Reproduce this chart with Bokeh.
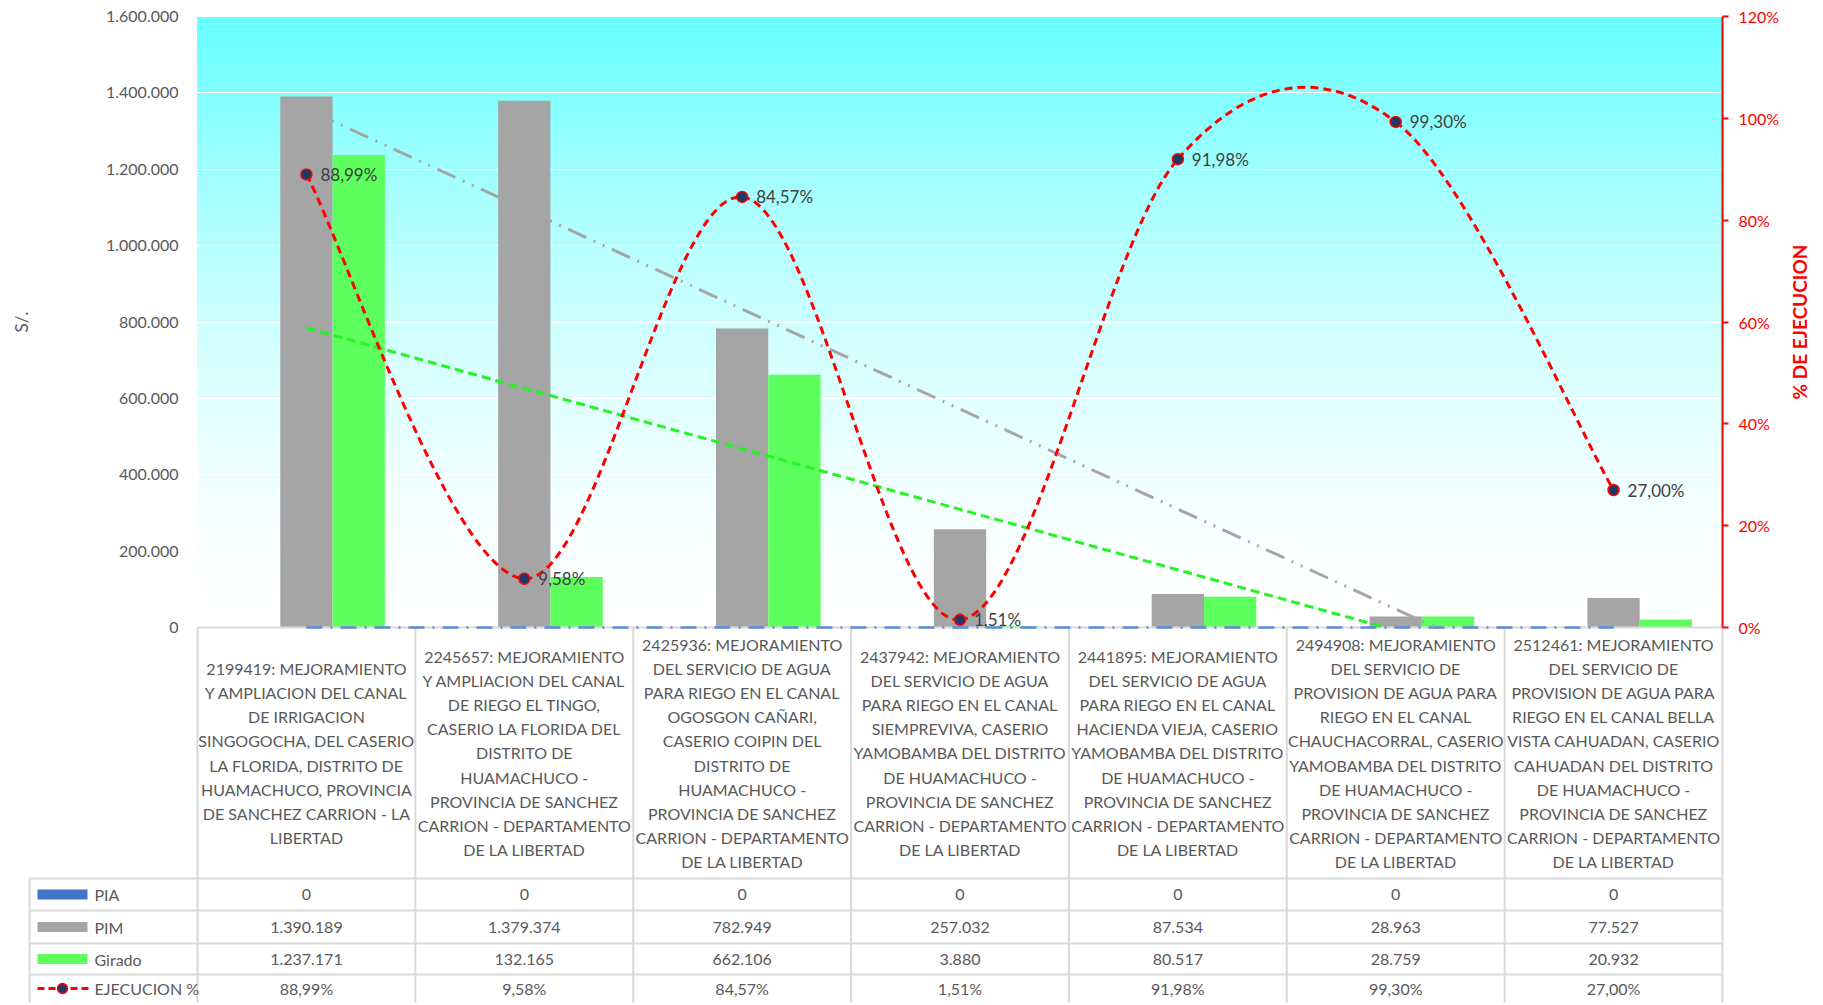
import numpy as np
from bokeh.plotting import figure
from bokeh.models import Range1d, LinearAxis, FixedTicker, Grid
from bokeh.core.properties import value
from bokeh.embed import file_html
from bokeh.resources import INLINE

# ---------------- data ----------------
categories = [
    "2199419: MEJORAMIENTO\nY AMPLIACION DEL CANAL\nDE IRRIGACION\nSINGOGOCHA, DEL CASERIO\nLA FLORIDA, DISTRITO DE\nHUAMACHUCO, PROVINCIA\nDE SANCHEZ CARRION - LA\nLIBERTAD",
    "2245657: MEJORAMIENTO\nY AMPLIACION DEL CANAL\nDE RIEGO EL TINGO,\nCASERIO LA FLORIDA DEL\nDISTRITO DE\nHUAMACHUCO -\nPROVINCIA DE SANCHEZ\nCARRION - DEPARTAMENTO\nDE LA LIBERTAD",
    "2425936: MEJORAMIENTO\nDEL SERVICIO DE AGUA\nPARA RIEGO EN EL CANAL\nOGOSGON CAÑARI,\nCASERIO COIPIN DEL\nDISTRITO DE\nHUAMACHUCO -\nPROVINCIA DE SANCHEZ\nCARRION - DEPARTAMENTO\nDE LA LIBERTAD",
    "2437942: MEJORAMIENTO\nDEL SERVICIO DE AGUA\nPARA RIEGO EN EL CANAL\nSIEMPREVIVA, CASERIO\nYAMOBAMBA DEL DISTRITO\nDE HUAMACHUCO -\nPROVINCIA DE SANCHEZ\nCARRION - DEPARTAMENTO\nDE LA LIBERTAD",
    "2441895: MEJORAMIENTO\nDEL SERVICIO DE AGUA\nPARA RIEGO EN EL CANAL\nHACIENDA VIEJA, CASERIO\nYAMOBAMBA DEL DISTRITO\nDE HUAMACHUCO -\nPROVINCIA DE SANCHEZ\nCARRION - DEPARTAMENTO\nDE LA LIBERTAD",
    "2494908: MEJORAMIENTO\nDEL SERVICIO DE\nPROVISION DE AGUA PARA\nRIEGO EN EL CANAL\nCHAUCHACORRAL, CASERIO\nYAMOBAMBA DEL DISTRITO\nDE HUAMACHUCO -\nPROVINCIA DE SANCHEZ\nCARRION - DEPARTAMENTO\nDE LA LIBERTAD",
    "2512461: MEJORAMIENTO\nDEL SERVICIO DE\nPROVISION DE AGUA PARA\nRIEGO EN EL CANAL BELLA\nVISTA CAHUADAN, CASERIO\nCAHUADAN DEL DISTRITO\nDE HUAMACHUCO -\nPROVINCIA DE SANCHEZ\nCARRION - DEPARTAMENTO\nDE LA LIBERTAD",
]
pia = [0, 0, 0, 0, 0, 0, 0]
pim = [1390189, 1379374, 782949, 257032, 87534, 28963, 77527]
girado = [1237171, 132165, 662106, 3880, 80517, 28759, 20932]
ejecucion = [88.99, 9.58, 84.57, 1.51, 91.98, 99.30, 27.00]
series = ["PIA", "PIM", "Girado", "EJECUCION %"]
y_ticks = [0, 200000, 400000, 600000, 800000, 1000000, 1200000, 1400000, 1600000]
pct_ticks = [0, 20, 40, 60, 80, 100, 120]
y_title = "S/."
pct_title = "% DE EJECUCION"


def fmt_int(v):
    return f"{int(v):,}".replace(",", ".")


def fmt_pct(v):
    return f"{v:.2f}%".replace(".", ",")


# ---------------- layout (window pixels) ----------------
W, H = 1821, 1003
PLOT_L, PLOT_R, PLOT_T = 197, 1722, 16
ZERO = 627
TABLE_L = 29
ROW_EDGES = [878, 910, 943, 974, 1006]
n = len(categories)
ppu = (PLOT_R - PLOT_L) / n
YMAX = y_ticks[-1]
PMAX = pct_ticks[-1]
ppv = (ZERO - PLOT_T) / YMAX
ppp = (ZERO - PLOT_T) / PMAX


def X(px):
    return (px - PLOT_L) / ppu


def Y(py):
    return (ZERO - py) / ppv


FONT = value("Lato")
TXT = "#595959"

p = figure(width=W, height=H, x_range=Range1d(X(0), X(W)), y_range=Range1d(Y(H), Y(0)),
           x_axis_location=None, y_axis_location=None, toolbar_location=None,
           output_backend="svg", title=None,
           min_border_left=0, min_border_right=0, min_border_top=0, min_border_bottom=0)
p.outline_line_color = None
p.background_fill_color = "white"
p.border_fill_color = "white"
p.extra_y_ranges = {"pct": Range1d((ZERO - H) / ppp, ZERO / ppp)}
p.center = []
p.add_layout(Grid(dimension=1, ticker=FixedTicker(ticks=y_ticks), grid_line_color="white",
                  grid_line_width=1), "center")

# gradient background of plot area
NS = 160
edges = np.linspace(0, YMAX, NS + 1)
mids = (edges[:-1] + edges[1:]) / 2
k = 1 - (mids / YMAX) ** 1.6
cols = ["#%02x%02x%02x" % (int(round(102 + 153 * kk)), 255, 255) for kk in k]
p.quad(left=0, right=n, bottom=edges[:-1], top=edges[1:], fill_color=cols, line_color=cols,
       line_width=1, level="image")

# axes (drawn at fixed data locations: plot-area edges)
yax = LinearAxis(ticker=FixedTicker(ticks=y_ticks), bounds=(0, YMAX), fixed_location=0,
                 major_label_overrides={t: fmt_int(t) for t in y_ticks},
                 axis_line_color=None, major_tick_line_color=None, minor_tick_line_color=None,
                 major_label_text_font="Lato", major_label_text_font_size="16px",
                 major_label_text_color=TXT, major_label_standoff=13)
p.add_layout(yax, "left")

rax = LinearAxis(y_range_name="pct", ticker=FixedTicker(ticks=pct_ticks), bounds=(0, PMAX),
                 fixed_location=n,
                 major_label_overrides={t: f"{t}%" for t in pct_ticks},
                 axis_line_color="red", axis_line_width=2, major_tick_line_color="red",
                 major_tick_line_width=2, major_tick_out=6, major_tick_in=0,
                 minor_tick_line_color=None, major_label_standoff=10,
                 major_label_text_font="Lato", major_label_text_font_size="16px",
                 major_label_text_color="red")
p.add_layout(rax, "right")

# axis titles
p.text([X(21)], [Y((PLOT_T + ZERO) / 2)], text=[y_title], angle=np.pi / 2, text_align="center",
       text_baseline="middle", text_font=FONT, text_font_size="17px", text_color=TXT)
p.text([X(1799)], [Y((PLOT_T + ZERO) / 2)], text=[pct_title], angle=np.pi / 2,
       text_align="center", text_baseline="middle", text_font=FONT, text_font_size="19px",
       text_font_style="bold", text_color="red")

# bars
xc = np.arange(n) + 0.5
bw = 0.24
p.vbar(x=xc - bw, top=pia, width=bw, fill_color="#4472C4", line_color=None)
p.vbar(x=xc, top=pim, width=bw, fill_color="#A5A5A5", line_color=None)
p.vbar(x=xc + bw, top=girado, width=bw, fill_color="#5CFF5C", line_color=None)

# table grid
GRID_C = "#D9D9D9"
hy = [ZERO] + ROW_EDGES[:4]
hx0 = [0] + [X(TABLE_L)] * 4
p.segment(x0=hx0, y0=[Y(v) for v in hy], x1=[n] * len(hy), y1=[Y(v) for v in hy],
          line_color=GRID_C, line_width=2)
vx = list(range(n + 1)) + [X(TABLE_L)]
vy0 = [Y(ZERO)] * (n + 1) + [Y(ROW_EDGES[0])]
p.segment(x0=vx, y0=vy0, x1=vx, y1=[Y(H + 10)] * len(vx), line_color=GRID_C, line_width=2)


# trendlines
def trend(vals):
    xs = np.arange(1, n + 1)
    m, b = np.polyfit(xs, np.array(vals, dtype=float), 1)
    x_end = float(n)
    if m < 0 and m * n + b < 0:
        x_end = -b / m
    return [xc[0], x_end - 0.5], [m * 1 + b, max(m * x_end + b, 0.0)]


tx, ty = trend(pia)
p.line(tx, ty, line_color="#5B8BD6", line_width=2.5, line_dash="16 8 2 8")
tx, ty = trend(pim)
p.line(tx, ty, line_color="#A6A6A6", line_width=3, line_dash="20 8 2 8 2 8")
tx, ty = trend(girado)
p.line(tx, ty, line_color="#22F522", line_width=3, line_dash="9 5")

# smoothed execution line (Catmull-Rom bezier like Excel smoothing)
P = np.column_stack([xc, np.array(ejecucion, dtype=float)])
bx0, by0, bx1, by1, cx0, cy0, cx1, cy1 = [], [], [], [], [], [], [], []
for i in range(n - 1):
    p0 = P[i - 1] if i > 0 else P[i]
    p1 = P[i]
    p2 = P[i + 1]
    p3 = P[i + 2] if i + 2 < n else P[i + 1]
    c0 = p1 + (p2 - p0) / 6.0
    c1 = p2 - (p3 - p1) / 6.0
    bx0.append(p1[0]); by0.append(p1[1]); bx1.append(p2[0]); by1.append(p2[1])
    cx0.append(c0[0]); cy0.append(c0[1]); cx1.append(c1[0]); cy1.append(c1[1])
p.bezier(x0=bx0, y0=by0, x1=bx1, y1=by1, cx0=cx0, cy0=cy0, cx1=cx1, cy1=cy1,
         y_range_name="pct", line_color="red", line_width=3, line_dash="8 5")
p.scatter(xc, ejecucion, y_range_name="pct", marker="circle", size=11, fill_color="#203864",
          line_color="red", line_width=1.5)
p.text(xc, ejecucion, text=[fmt_pct(v) for v in ejecucion], y_range_name="pct", x_offset=14,
       text_align="left", text_baseline="middle", text_font=FONT, text_font_size="17px",
       text_color="#404040")

# table: header cells
p.text(xc, [Y((ZERO + ROW_EDGES[0]) / 2)] * n, text=categories, text_align="center",
       text_baseline="middle", text_font=FONT, text_font_size="16px", text_color=TXT,
       text_line_height=1.27)

# table: value rows
row_vals = [[fmt_int(v) for v in pia], [fmt_int(v) for v in pim],
            [fmt_int(v) for v in girado], [fmt_pct(v) for v in ejecucion]]
row_c = [(ROW_EDGES[r] + ROW_EDGES[r + 1]) / 2 for r in range(4)]
row_c[3] = 988
for r in range(4):
    p.text(xc, [Y(row_c[r])] * n, text=row_vals[r], text_align="center", text_baseline="middle",
           text_font=FONT, text_font_size="16px", text_color=TXT)

# table: legend column
key_x = X(62)
key_cols = ["#4472C4", "#A5A5A5", "#5CFF5C"]
p.rect(x=[key_x] * 3, y=[Y(c) for c in row_c[:3]], width=50, height=10, width_units="screen",
       height_units="screen", fill_color=key_cols, line_color=None)
p.segment(x0=[X(37)], y0=[Y(row_c[3])], x1=[X(88)], y1=[Y(row_c[3])], line_color="red",
          line_width=3, line_dash="7 4")
p.scatter([key_x], [Y(row_c[3])], marker="circle", size=10, fill_color="#203864",
          line_color="red", line_width=1.5)
p.text([X(94)] * 4, [Y(c) for c in row_c], text=series, text_align="left",
       text_baseline="middle", text_font=FONT, text_font_size="16px", text_color=TXT)

open("out.html", "w").write(file_html(p, INLINE))
